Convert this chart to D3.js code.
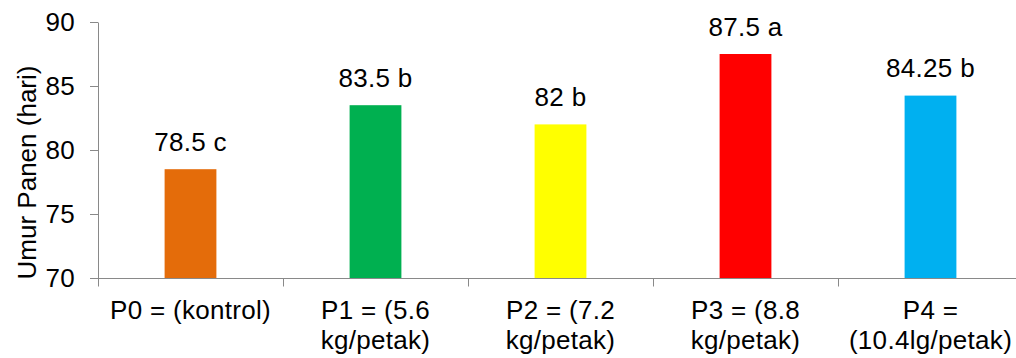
<!DOCTYPE html>
<html>
<head>
<meta charset="utf-8">
<script src="https://cdn.jsdelivr.net/npm/d3@7"></script>
<style>
  html, body { margin: 0; padding: 0; background: #fff; }
  svg { display: block; }
  text { font-family: "Liberation Sans", Arial, sans-serif; fill: #000; letter-spacing: 0.3px; }
</style>
</head>
<body>
<svg id="chart" width="1016" height="358"></svg>
<script>
// Treatments (label lines), harvest age values and significance letters
const categories = [
  ["P0 = (kontrol)"],
  ["P1 = (5.6", "kg/petak)"],
  ["P2 = (7.2", "kg/petak)"],
  ["P3 = (8.8", "kg/petak)"],
  ["P4 =", "(10.4lg/petak)"]
];
const values = [78.5, 83.5, 82, 87.5, 84.25];
const letters = ["c", "b", "b", "a", "b"];
const colors = ["#E46C0A", "#00B050", "#FFFF00", "#FF0000", "#00B0F0"];
const yTicks = [70, 75, 80, 85, 90];

const svg = d3.select("#chart");
const axisColor = "#898989";
const fontSize = 26;

const keys = categories.map((c, i) => "c" + i);
const x = d3.scaleBand().domain(keys).range([98, 1023]);
const y = d3.scaleLinear().domain([70, 90]).range([278, 22]);
const barW = x.bandwidth() * 0.28;

// Y axis
const yAxis = svg.append("g")
  .attr("transform", "translate(98,0)")
  .call(d3.axisLeft(y).tickValues(yTicks).tickSize(8).tickSizeOuter(0).tickPadding(15));
yAxis.select(".domain").attr("stroke", axisColor);
yAxis.selectAll(".tick line").attr("stroke", axisColor);
yAxis.selectAll(".tick text")
  .style("font-size", fontSize + "px")
  .style("font-family", '"Liberation Sans", Arial, sans-serif')
  .attr("fill", "#000");

// X axis line and category boundary ticks
const xAxisY = Math.round(y(70)) + 0.5;
svg.append("line")
  .attr("x1", 98).attr("x2", 1016)
  .attr("y1", xAxisY).attr("y2", xAxisY)
  .attr("stroke", axisColor);
const bounds = keys.map(k => x(k)).concat([x.range()[1]]);
svg.selectAll(".xtick").data(bounds).enter().append("line")
  .attr("class", "xtick")
  .attr("x1", d => Math.round(d) + 0.5).attr("x2", d => Math.round(d) + 0.5)
  .attr("y1", xAxisY).attr("y2", xAxisY + 8)
  .attr("stroke", axisColor);

// Bars
svg.selectAll(".bar").data(values).enter().append("rect")
  .attr("class", "bar")
  .attr("x", (d, i) => x(keys[i]) + x.bandwidth() / 2 - barW / 2)
  .attr("width", barW)
  .attr("y", d => y(d))
  .attr("height", d => y(70) - y(d))
  .attr("fill", (d, i) => colors[i]);

// Value labels above bars (value + significance letter)
svg.selectAll(".val").data(values).enter().append("text")
  .attr("class", "val")
  .attr("x", (d, i) => x(keys[i]) + x.bandwidth() / 2)
  .attr("y", d => y(d) - 18.5)
  .attr("text-anchor", "middle")
  .style("font-size", fontSize + "px")
  .text((d, i) => d + " " + letters[i]);

// Category labels
const cat = svg.selectAll(".cat").data(categories).enter().append("text")
  .attr("class", "cat")
  .attr("text-anchor", "middle")
  .style("font-size", fontSize + "px")
  .attr("x", (d, i) => x(keys[i]) + x.bandwidth() / 2)
  .attr("y", 318.5);
cat.selectAll("tspan").data(d => d).enter().append("tspan")
  .attr("x", function() { return this.parentNode.getAttribute("x"); })
  .attr("dy", (d, j) => j === 0 ? 0 : 30)
  .text(d => d);

// Y axis title
svg.append("text")
  .attr("transform", "translate(36,172.5) rotate(-90)")
  .attr("text-anchor", "middle")
  .style("font-size", fontSize + "px")
  .style("letter-spacing", "0px")
  .text("Umur Panen (hari)");
</script>
</body>
</html>
